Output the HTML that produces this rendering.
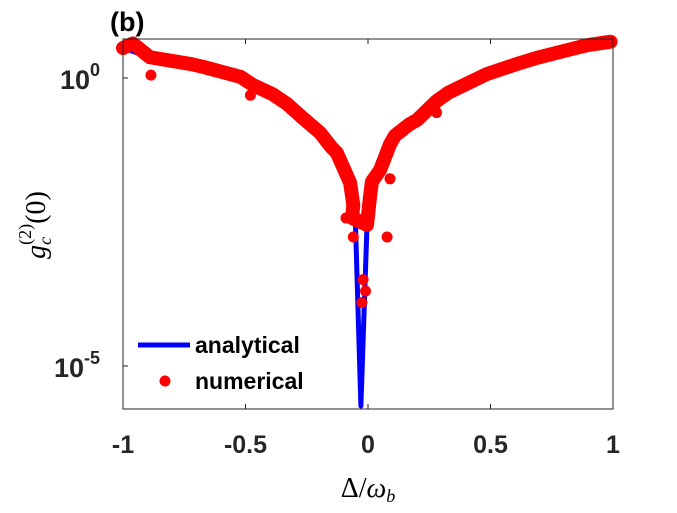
<!DOCTYPE html>
<html><head><meta charset="utf-8"><style>
body{margin:0;background:#fff}
</style></head><body>
<svg width="677" height="508" style="font-family:'Liberation Sans',sans-serif">
<rect width="677" height="508" fill="#fff"/>
<g id="plot"></g>
<rect x="123" y="39" width="490" height="370" fill="none" stroke="#262626" stroke-width="1"/>
<g id="axes"></g>
<text x="110" y="31" font-size="27" font-weight="bold">(b)</text>
<text x="368" y="497" font-size="28" style="font-family:'Liberation Serif',serif" text-anchor="middle">Δ/<tspan font-style="italic">ω</tspan><tspan font-style="italic" font-size="18" dy="5">b</tspan></text>
<text transform="translate(45,225) rotate(-90)" font-size="28" style="font-family:'Liberation Serif',serif" text-anchor="middle"><tspan font-style="italic">g</tspan><tspan font-style="italic" font-size="18" dy="6">c</tspan><tspan font-size="18" dx="-8" dy="-20">(2)</tspan><tspan dy="14">(0)</tspan></text>
<g>
<line x1="138" y1="345" x2="190" y2="345" stroke="#0000ff" stroke-width="5"/>
<text x="195" y="353" font-size="23" font-weight="bold">analytical</text>
<circle cx="165" cy="381" r="5.5" fill="#ff0000"/>
<text x="195" y="389" font-size="23" font-weight="bold">numerical</text>
</g>
</svg>
<script>
const xTicks=[-1,-0.5,0,0.5,1];
const xTickLabels=["-1","-0.5","0","0.5","1"];
const yTicks=[0,-5];
const anaX=[-1,-0.89,-0.72,-0.67,-0.52,-0.47,-0.39,-0.33,-0.27,-0.196,-0.15,-0.127,-0.073,-0.06,-0.052,-0.029,-0.004,0.008,0.016,0.049,0.09,0.11,0.17,0.2,0.28,0.33,0.486,0.62,0.69,0.82,0.894,0.99];
const anaY=[0.52,0.36,0.24,0.19,0.02,-0.12,-0.28,-0.45,-0.68,-0.95,-1.2,-1.3,-1.82,-2.2,-2.4,-5.75,-2.55,-2.07,-1.8,-1.6,-1.15,-1.0,-0.8,-0.73,-0.4,-0.25,0.07,0.26,0.35,0.49,0.57,0.63];
const numX=[-1,-0.96,-0.89,-0.72,-0.67,-0.52,-0.47,-0.39,-0.33,-0.27,-0.196,-0.15,-0.127,-0.073,-0.06,-0.065,-0.004,0.008,0.016,0.049,0.09,0.11,0.17,0.2,0.28,0.33,0.486,0.62,0.69,0.82,0.894,0.99];
const numY=[0.52,0.6,0.36,0.24,0.19,0.02,-0.12,-0.28,-0.45,-0.68,-0.95,-1.2,-1.3,-1.82,-2.2,-2.43,-2.55,-2.07,-1.8,-1.6,-1.15,-1.0,-0.8,-0.73,-0.4,-0.25,0.07,0.26,0.35,0.49,0.57,0.63];
const outX=[-0.886,0.078,-0.06,-0.09,-0.48,0.28,0.09,-0.02,-0.01,-0.025];
const outY=[0.05,-2.76,-2.76,-2.43,-0.3,-0.6,-1.75,-3.5,-3.7,-3.9];
const X=v=>123+(v+1)*245, Y=v=>78-v*57.6;
const NS="http://www.w3.org/2000/svg";
const plot=document.getElementById('plot'), axes=document.getElementById('axes');
function mk(t,a,p){const e=document.createElementNS(NS,t);for(const k in a)e.setAttribute(k,a[k]);p.appendChild(e);return e;}
const ana=mk('polyline',{points:anaX.map((x,i)=>X(x)+','+Math.min(Y(anaY[i]),406)).join(' '),fill:'none',stroke:'#0000ff','stroke-width':5,'stroke-linejoin':'round'},plot);


const band=mk('polyline',{points:numX.map((x,i)=>X(x)+','+Y(numY[i])).join(' '),fill:'none',stroke:'#ff0000','stroke-width':14,'stroke-linejoin':'round','stroke-linecap':'round'},plot);


numX.forEach((x,i)=>{const c=mk('circle',{cx:X(x),cy:Y(numY[i]),r:6.5,fill:'#ff0000'},plot);

});
outX.forEach((x,i)=>{const c=mk('circle',{cx:X(x),cy:Y(outY[i]),r:5.5,fill:'#ff0000'},plot);

});
xTicks.forEach((v,i)=>{mk('line',{x1:X(v),x2:X(v),y1:409,y2:404,stroke:'#262626'},axes);
mk('line',{x1:X(v),x2:X(v),y1:39,y2:44,stroke:'#262626'},axes);
const t=mk('text',{x:X(v),y:453,'font-size':25,'font-weight':'bold','text-anchor':'middle',fill:'#262626'},axes);t.textContent=xTickLabels[i];

});
yTicks.forEach(v=>{mk('line',{x1:123,x2:128,y1:Y(v),y2:Y(v),stroke:'#262626'},axes);
const t=mk('text',{x:100,y:Y(v)+11,'font-size':27,'font-weight':'bold','text-anchor':'end',fill:'#262626'},axes);
t.innerHTML='10<tspan font-size="18" dy="-13">'+v+'</tspan>';

});
</script>
</body></html>
